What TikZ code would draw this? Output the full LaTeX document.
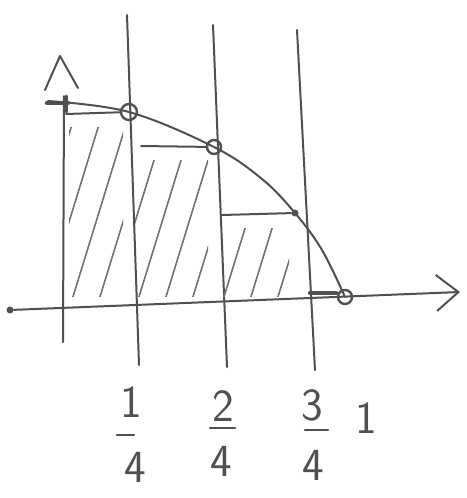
\documentclass[tikz,border=0pt]{standalone}
\usepackage{tikz}
\usetikzlibrary{arrows.meta, calc}
\definecolor{pencil}{HTML}{505050}

\begin{document}
\begin{tikzpicture}[x=1pt, y=-1pt, line cap=round, line join=round,
    stroke/.style={draw=pencil, line width=2pt},
    heavy/.style={draw=pencil, line width=4.5pt},
    hatch/.style={draw=pencil!80, line width=1.6pt},
    ring/.style={circle, draw=pencil, line width=2.4pt, minimum size=16pt, inner sep=0pt},
    dot/.style={circle, fill=pencil, minimum size=7pt, inner sep=0pt},
    lbl/.style={text=pencil, font=\sffamily\fontsize{46}{46}\selectfont, inner sep=0pt},
  ]
    \useasboundingbox (0,0) rectangle (466,498);

    % axes
    \node[dot] (xs) at (10,310) {};
    \coordinate (xe) at (460,292);
    \draw[stroke, -{Straight Barb[length=22pt, width=36pt]}] (xs) -- (xe);
    \coordinate (yb) at (63,342);
    \coordinate (yt) at (64,96);
    \draw[stroke] (yb) -- (yt);
    \draw[stroke] (45,90) -- (60,56) -- (78,88);

    % subdivision lines
    \coordinate (t1) at (127,15);  \coordinate (b1) at (139,365);
    \coordinate (t2) at (213,25);  \coordinate (b2) at (227,367);
    \coordinate (t3) at (297,30);  \coordinate (b3) at (315,370);
    \foreach \i in {1,2,3} {
      \draw[stroke] (t\i) -- (b\i);
    }

    % hatched rectangles
    \foreach \xa/\xb/\ya in {63/129/113, 129/214/146, 214/295/214} {
      \begin{scope}
        \clip (\xa+6,\ya+14) rectangle (\xb-6,296);
        \foreach \k in {0,...,7} {
          \draw[hatch] (\xa-45+\k*27,300) -- ++(60,-195);
        }
      \end{scope}
    }

    % points on the curve
    \node[ring] (p1) at (129,112) {};
    \node[ring, minimum size=14pt] (p2) at (214,147) {};
    \node[dot] (p3) at (295,213) {};
    \node[ring, minimum size=14pt] (p4) at (345,297) {};
    \draw[stroke] plot[smooth, tension=0.6] coordinates
      {(48,101) (p1.center) (p2.center) (262,179) (p3.center) (322,250) (p4.center)};

    % step tops
    \coordinate (s1) at (66,114);
    \coordinate (s2) at (141,146);
    \coordinate (s3) at (222,215);
    \draw[stroke] (s1) -- (p1);
    \draw[stroke] (s2) -- (p2);
    \draw[stroke] (s3) -- (p3);
    \draw[heavy] (47,103) -- (68,103);
    \draw[heavy, line width=3pt] (66,96) -- (66,112);
    \draw[heavy] (310,293) -- (336,293);

    % labels
    \node[lbl] (n1) at (131,402) {1};
    \node[lbl] (d1) at (135,467) {4};
    \node[lbl] (n2) at (223,406) {2};
    \node[lbl] (d2) at (221,461) {4};
    \node[lbl] (n3) at (312,405) {3};
    \node[lbl] (d3) at (313,465) {4};
    \node[lbl] (one) at (366,418) {1};
    \draw[stroke, line width=2.6pt] (117,435) -- (134,435);
    \draw[stroke, line width=2.6pt] (210,428) -- (235,428);
    \draw[stroke, line width=2.6pt] (305,430) -- (328,430);
  \end{tikzpicture}
\end{document}
